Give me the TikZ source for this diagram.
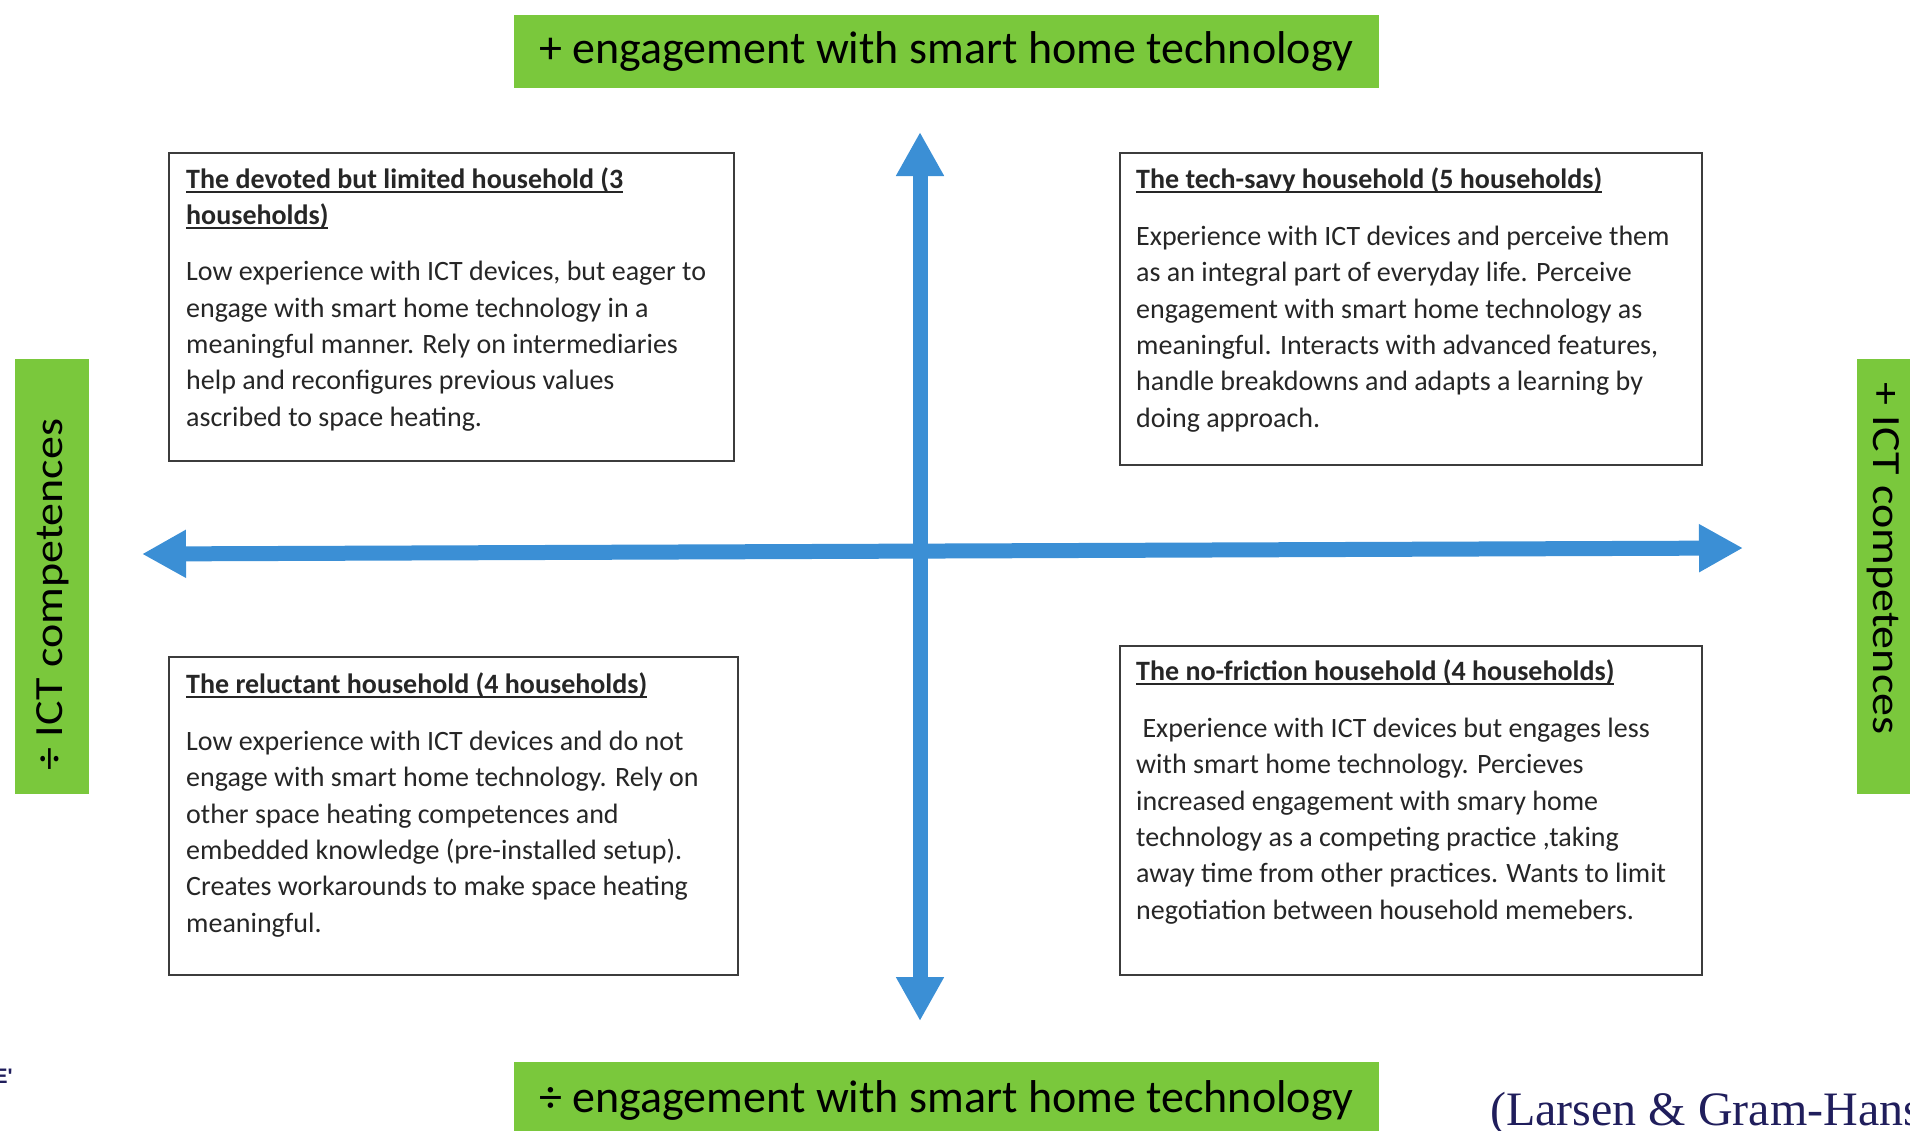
\documentclass[tikz,border=0pt]{standalone}
\usepackage{fontspec}
\setmainfont{Carlito}
\newfontfamily\citefont{Liberation Serif}
\newfontfamily\logofont{Liberation Sans}
\usepackage{graphicx}
\usetikzlibrary{arrows.meta}
\definecolor{axisblue}{RGB}{59,143,213}
\definecolor{labgreen}{RGB}{122,200,60}
\definecolor{boxline}{RGB}{60,60,60}
\definecolor{boxtext}{RGB}{38,38,38}
\definecolor{navy}{RGB}{32,30,92}
\newsavebox{\ulbox}
\newcommand{\myul}[1]{\sbox{\ulbox}{#1}\rlap{\rule[-4.5pt]{\wd\ulbox}{1.6pt}}\usebox{\ulbox}}
\begin{document}
\begin{tikzpicture}[x=1pt,y=-1pt,
  hbox/.style={draw=boxline, line width=2pt, fill=white, inner sep=0pt, anchor=north west},
  btext/.style={anchor=north west, inner sep=0pt, align=left, text=boxtext, font=\fontsize{28}{36.3}\selectfont},
  glab/.style={fill=labgreen, inner sep=0pt, text=black},
  toplab/.style={glab, minimum width=865pt, minimum height=73pt, font=\fontsize{46}{46}\selectfont},
  sidetxt/.style={inner sep=0pt, anchor=base, text=black, font=\fontsize{40}{40}\selectfont},
  axis/.style={draw=axisblue, line width=15pt, {Triangle[length=44pt,width=45pt]}-{Triangle[length=44pt,width=45pt]}},
]
\useasboundingbox (0,0) rectangle (1910,1130);
\clip (0,0) rectangle (1910,1130);

% green labels
\node[toplab] (toplabel) at (946.5,51.5) {+ engagement with smart home technology};
\node[toplab, minimum height=76pt] (botlabel) at (946.5,1100) {÷ engagement with smart home technology};
\node[glab, anchor=north west, minimum width=74pt, minimum height=435pt] (lgreen) at (15,359) {};
\node[sidetxt, rotate=90] (ltext) at (62,594.5) {\scalebox{1.15}[1]{÷ ICT competences}};
\node[glab, anchor=north west, minimum width=60pt, minimum height=435pt] (rgreen) at (1857,359) {};
\node[sidetxt, rotate=-90] (rtext) at (1873,558.5) {\scalebox{1.15}[1]{+ ICT competences}};

% boxes
\node[hbox, minimum width=565pt, minimum height=308pt] (b1) at (168,152) {};
\node[hbox, minimum width=582pt, minimum height=312pt] (b2) at (1119,152) {};
\node[hbox, minimum width=569pt, minimum height=318pt] (b3) at (168,656) {};
\node[hbox, minimum width=582pt, minimum height=329pt] (b4) at (1119,645) {};

\node[btext] (t1) at (186,164) {\rule{0pt}{24pt}\myul{\textbf{The devoted but limited household (3}}\\
\myul{\textbf{households)}}\\[20pt]
Low experience with ICT devices, but eager to\\
engage with smart home technology in a\\
meaningful manner. Rely on intermediaries\\
help and reconfigures previous values\\
ascribed to space heating.};

\node[btext] (t2) at (1136,164) {\rule{0pt}{24pt}\myul{\textbf{The tech-savy household (5 households)}}\\[21pt]
Experience with ICT devices and perceive them\\
as an integral part of everyday life. Perceive\\
engagement with smart home technology as\\
meaningful. Interacts with advanced features,\\
handle breakdowns and adapts a learning by\\
doing approach.};

\node[btext] (t3) at (186,669) {\rule{0pt}{24pt}\myul{\textbf{The reluctant household (4 households)}}\\[21pt]
Low experience with ICT devices and do not\\
engage with smart home technology. Rely on\\
other space heating competences and\\
embedded knowledge (pre-installed setup).\\
Creates workarounds to make space heating\\
meaningful.};

\node[btext] (t4) at (1136,656) {\rule{0pt}{24pt}\myul{\textbf{The no-friction household (4 households)}}\\[21pt]
\hspace*{6.3pt}Experience with ICT devices but engages less\\
with smart home technology. Percieves\\
increased engagement with smary home\\
technology as a competing practice ,taking\\
away time from other practices. Wants to limit\\
negotiation between household memebers.};

% axes
\coordinate (vt) at (920,132);
\coordinate (vb) at (920,1021);
\coordinate (hl) at (142,554);
\coordinate (hr) at (1743,548);
\draw[axis] (vb) -- (vt);
\draw[axis] (hl) -- (hr);

% citation and logo fragment
\node[anchor=base west, inner sep=0pt, text=navy, font=\citefont\fontsize{48}{48}\selectfont] (cite) at (1490,1125) {(Larsen \& Gram-Hans};
\node[anchor=base west, inner sep=0pt, text=navy, font=\logofont\bfseries\fontsize{21}{21}\selectfont] (logo) at (-6.5,1083) {E'};
\end{tikzpicture}
\end{document}
